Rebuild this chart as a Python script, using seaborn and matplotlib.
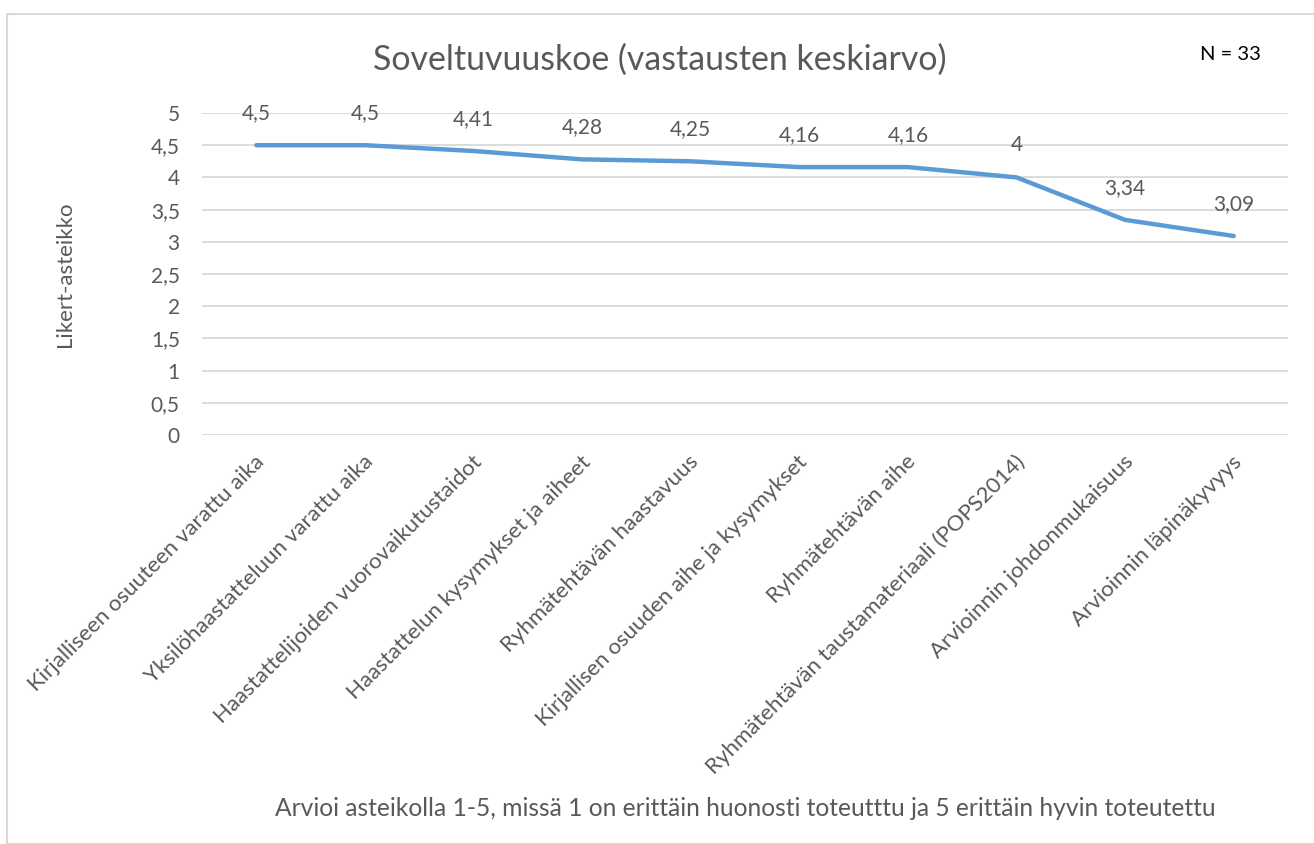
import numpy as np
import pandas as pd
import matplotlib.pyplot as plt
import matplotlib.transforms as mtransforms
from matplotlib.patches import Rectangle
import seaborn as sns

# data
categories = [
    "Kirjalliseen osuuteen varattu aika",
    "Yksilöhaastatteluun varattu aika",
    "Haastattelijoiden vuorovaikutustaidot",
    "Haastattelun kysymykset ja aiheet",
    "Ryhmätehtävän haastavuus",
    "Kirjallisen osuuden aihe ja kysymykset",
    "Ryhmätehtävän aihe",
    "Ryhmätehtävän taustamateriaali (POPS2014)",
    "Arvioinnin johdonmukaisuus",
    "Arvioinnin läpinäkyvyys",
]
means = [4.5, 4.5, 4.41, 4.28, 4.25, 4.16, 4.16, 4.0, 3.34, 3.09]
y_ticks = [0, 0.5, 1, 1.5, 2, 2.5, 3, 3.5, 4, 4.5, 5]

title = "Soveltuvuuskoe (vastausten keskiarvo)"
x_title = "Arvioi asteikolla 1-5, missä 1 on erittäin huonosti toteutttu ja 5 erittäin hyvin toteutettu"
y_title = "Likert-asteikko"
n_text = "N = 33"

sns.set_theme(style="white")
plt.rcParams["font.family"] = ["Lato", "DejaVu Sans"]
text_col = "#595959"
grid_col = "#D9D9D9"
line_col = "#5B9BD5"

def fi(v):
    # finnish decimal comma
    return f"{v:g}".replace(".", ",")

df = pd.DataFrame({"kysymys": categories, "ka": means})

fig = plt.figure(figsize=(13.14, 8.44), dpi=100)
fig.patches.append(Rectangle((7 / 1314, 0), 1.0, 1 - 14 / 844, transform=fig.transFigure,
                             fill=False, edgecolor=grid_col, linewidth=1.5))
ax = fig.add_axes([202 / 1314, 1 - 435 / 844, 1086 / 1314, 322 / 844])

for t in y_ticks:
    ax.axhline(t, color=grid_col, lw=1.3, zorder=0)

sns.lineplot(data=df, x="kysymys", y="ka", sort=False, color=line_col, lw=3.2, ax=ax,
             solid_capstyle="round", solid_joinstyle="round")

for i, v in enumerate(means):
    ax.annotate(fi(v), (i, v), xytext=(0, 23), textcoords="offset points",
                ha="center", va="center", fontsize=15, color=text_col)

ax.set_xlim(-0.5, len(categories) - 0.5)
ax.set_ylim(0, 5)
ax.set_yticks(y_ticks)
ax.set_yticklabels([fi(t) for t in y_ticks], fontsize=15, color=text_col)
ax.tick_params(axis="y", length=0, pad=16)
ax.set_xticks(range(len(categories)))
ax.set_xticklabels(categories, rotation=45, ha="right", rotation_mode="anchor",
                   fontsize=16, color=text_col)
ax.tick_params(axis="x", length=0, pad=12)
offset = mtransforms.ScaledTranslation(-2 / 100, 0, fig.dpi_scale_trans)
for lab in ax.get_xticklabels():
    lab.set_transform(lab.get_transform() + offset)
for s in ax.spines.values():
    s.set_visible(False)
ax.set_xlabel("")
ax.set_ylabel("")

fig.text(660 / 1314, 1 - 60 / 844, title, ha="center", va="center", fontsize=24.4, color=text_col)
fig.text(1230 / 1314, 1 - 55 / 844, n_text, ha="center", va="center", fontsize=14.5, color="black")
fig.text(65 / 1314, 1 - 274 / 844, y_title, ha="center", va="center", rotation=90,
         fontsize=16, color=text_col)
fig.text(745 / 1314, 1 - 808 / 844, x_title, ha="center", va="center", fontsize=17.7, color=text_col)

fig.savefig("out.png", dpi=100)
